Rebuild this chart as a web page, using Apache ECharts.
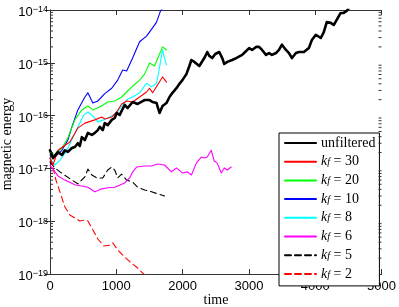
<!DOCTYPE html>
<html><head><meta charset="utf-8">
<script src="https://cdn.jsdelivr.net/npm/echarts@6/dist/echarts.min.js"></script>
<style>html,body{margin:0;padding:0;background:#fff}#c{width:399px;height:307px}</style>
</head><body><div id="c"></div>
<script>
const xTicks = [0, 1000, 2000, 3000, 4000, 5000];
const yExponents = [-19, -18, -17, -16, -15, -14];
const minorMantissas = [2, 3, 4, 5, 6, 7, 8, 9];
const legendNames = ['unfiltered', 'kf30', 'kf20', 'kf10', 'kf8', 'kf6', 'kf5', 'kf2'];
const legendValues = { kf30: '30', kf20: '20', kf10: '10', kf8: '8', kf6: '6', kf5: '5', kf2: '2' };

const unfiltered = [[0,2.2e-17],[45,1.57e-17],[75,1.44e-17],[120,2.05e-17],[180,1.8e-17],[225,2.2e-17],[270,2.05e-17],[330,2.43e-17],[375,2.54e-17],[420,3.0e-17],[450,2.65e-17],[480,3.9e-17],[526,3.45e-17],[571,4.7e-17],[631,4.3e-17],[676,4.7e-17],[721,5.3e-17],[751,6.1e-17],[796,5.3e-17],[826,7.2e-17],[871,6.6e-17],[931,8.3e-17],[976,9.0e-17],[1006,1.12e-16],[1051,1.03e-16],[1126,1.59e-16],[1171,1.39e-16],[1246,1.81e-16],[1321,1.66e-16],[1426,1.97e-16],[1502,1.97e-16],[1547,1.81e-16],[1607,1.73e-16],[1652,1.12e-16],[1697,1.52e-16],[1757,1.73e-16],[1802,2.25e-16],[1847,2.7e-16],[1907,3.3e-16],[1952,4.0e-16],[1997,4.7e-16],[2057,6.1e-16],[2102,8.7e-16],[2132,1.13e-15],[2177,1.04e-15],[2207,9.9e-16],[2252,8.7e-16],[2282,8.3e-16],[2327,1.23e-15],[2372,1.6e-15],[2402,1.35e-15],[2447,1.23e-15],[2492,1.47e-15],[2553,1.6e-15],[2598,1.23e-15],[2628,9.5e-16],[2673,1.04e-15],[2748,1.13e-15],[2808,1.23e-15],[2898,1.41e-15],[2943,1.6e-15],[3003,1.9e-15],[3048,1.75e-15],[3108,2.0e-15],[3153,2.0e-15],[3198,1.75e-15],[3258,1.41e-15],[3303,1.53e-15],[3348,1.41e-15],[3408,1.53e-15],[3453,1.75e-15],[3498,2.2e-15],[3559,1.75e-15],[3604,1.53e-15],[3649,1.23e-15],[3709,1.53e-15],[3754,1.6e-15],[3829,1.6e-15],[3904,1.9e-15],[3949,2.7e-15],[4009,3.4e-15],[4084,2.95e-15],[4129,3.8e-15],[4174,5.9e-15],[4234,5.7e-15],[4279,5.2e-15],[4324,6.5e-15],[4384,8.8e-15],[4429,8.8e-15],[4474,9.6e-15],[4500,1.05e-14]];
const kf30 = [[0,1.57e-17],[45,1.16e-17],[120,2.2e-17],[210,2.65e-17],[300,3.16e-17],[420,5.8e-17],[526,7.2e-17],[676,8.3e-17],[781,9.4e-17],[826,8.6e-17],[931,9.4e-17],[1006,1.17e-16],[1081,1.66e-16],[1156,1.89e-16],[1246,1.81e-16],[1351,2.25e-16],[1456,2.8e-16],[1502,3.3e-16],[1547,2.7e-16],[1622,3.8e-16],[1697,5.4e-16],[1757,4.3e-16]];
const kf20 = [[0,2.05e-17],[75,1.8e-17],[180,2.4e-17],[270,3.8e-17],[375,8.3e-17],[480,1.28e-16],[571,1.52e-16],[646,1.28e-16],[751,1.46e-16],[871,1.81e-16],[976,1.89e-16],[1081,2.25e-16],[1156,2.8e-16],[1246,3.6e-16],[1351,4.7e-16],[1426,6.1e-16],[1502,9.9e-16],[1577,8.7e-16],[1652,1.47e-15],[1697,2.0e-15],[1757,1.75e-15]];
const kf10 = [[0,1.8e-17],[75,1.64e-17],[180,2.2e-17],[270,3.45e-17],[330,6.1e-17],[420,1.28e-16],[526,2.25e-16],[571,2.7e-16],[646,1.73e-16],[721,1.89e-16],[826,2.6e-16],[931,3.3e-16],[1021,4.7e-16],[1096,7.3e-16],[1156,7.0e-16],[1246,1.23e-15],[1351,2.5e-15],[1456,3.2e-15],[1547,4.6e-15],[1607,5.9e-15],[1667,9.6e-15],[1690,1.05e-14]];
const kf8 = [[0,1.57e-17],[75,1.16e-17],[150,1.44e-17],[240,2.05e-17],[330,3.45e-17],[420,6.1e-17],[511,1.03e-16],[571,1.17e-16],[646,9.8e-17],[721,7.6e-17],[811,8.3e-17],[901,9.4e-17],[1006,1.12e-16],[1096,1.59e-16],[1171,2.06e-16],[1246,2.25e-16],[1351,2.7e-16],[1456,4.1e-16],[1532,3.5e-16],[1607,4.1e-16],[1652,8.3e-16],[1697,1.75e-15],[1727,1.23e-15],[1757,9.1e-16]];
const kf6 = [[0,1.16e-17],[30,1.02e-17],[120,7.2e-18],[225,6.0e-18],[375,4.9e-18],[571,4.4e-18],[676,3.6e-18],[781,4.1e-18],[871,4.3e-18],[976,4.4e-18],[1126,5.3e-18],[1201,6.6e-18],[1246,8.6e-18],[1306,1.06e-17],[1426,1.11e-17],[1532,1.11e-17],[1622,1.21e-17],[1727,1.16e-17],[1832,8.6e-18],[1907,1.02e-17],[1997,8.2e-18],[2072,8.6e-18],[2132,7.5e-18],[2207,1.26e-17],[2282,1.64e-17],[2327,1.57e-17],[2372,1.64e-17],[2432,2.2e-17],[2477,1.38e-17],[2522,1.26e-17],[2583,8.2e-18],[2628,1.02e-17],[2673,9.3e-18],[2733,1.06e-17]];
const kf5 = [[0,1.32e-17],[75,1.02e-17],[150,8.6e-18],[240,7.2e-18],[330,6.0e-18],[420,5.1e-18],[526,6.9e-18],[571,9.7e-18],[631,7.5e-18],[706,6.6e-18],[796,6.6e-18],[871,9.3e-18],[931,1.06e-17],[976,9.3e-18],[1021,6.6e-18],[1081,7.8e-18],[1156,6.0e-18],[1246,5.5e-18],[1321,4.4e-18],[1426,3.9e-18],[1532,3.6e-18],[1622,3.3e-18],[1727,3.0e-18]];
const kf2 = [[0,1.57e-17],[45,1.02e-17],[90,6.0e-18],[150,3.6e-18],[225,1.86e-18],[300,1.31e-18],[375,1.15e-18],[450,1.01e-18],[526,1.05e-18],[571,1.01e-18],[631,7.4e-19],[721,4.6e-19],[811,3.4e-19],[901,3.5e-19],[946,3.9e-19],[1021,2.85e-19],[1126,2.1e-19],[1231,1.6e-19],[1321,1.3e-19],[1450,9.0e-20]];

const seriesDefs = [
  { name: 'kf2', data: kf2, color: '#ff0000', width: 1.1, dash: [6, 4] },
  { name: 'kf5', data: kf5, color: '#000000', width: 1.1, dash: [6, 4] },
  { name: 'kf6', data: kf6, color: '#ff00ff', width: 1.1 },
  { name: 'kf8', data: kf8, color: '#00ffff', width: 1.1 },
  { name: 'kf10', data: kf10, color: '#0000ff', width: 1.1 },
  { name: 'kf20', data: kf20, color: '#00ff00', width: 1.1 },
  { name: 'kf30', data: kf30, color: '#ff0000', width: 1.1 },
  { name: 'unfiltered', data: unfiltered, color: '#000000', width: 2.6 }
];

const minorTickValues = [];
yExponents.slice(0, -1).forEach(e => minorMantissas.forEach(m => minorTickValues.push([0, m * Math.pow(10, e)])));

const serif = '"Liberation Serif", "DejaVu Serif", serif';
const sans = '"Liberation Sans", Arial, sans-serif';
const axisCol = '#333';

const chart = echarts.init(document.getElementById('c'), null, { renderer: 'canvas' });
const series = seriesDefs.map(s => ({
  type: 'line', name: s.name, data: s.data, symbol: 'none', showSymbol: false,
  clip: true, animation: false,
  lineStyle: { color: s.color, width: s.width, type: s.dash || 'solid', join: 'round', cap: 'round' },
  itemStyle: { color: s.color }
}));
series.push({
  type: 'custom', silent: true, animation: false, data: minorTickValues, encode: { x: 0, y: 1 }, z: 5,
  renderItem: (params, api) => {
    const v = api.value(1);
    const p0 = api.coord([xTicks[0], v]);
    const p1 = api.coord([xTicks[xTicks.length - 1], v]);
    return { type: 'group', children: [
      { type: 'line', shape: { x1: p0[0], y1: p0[1], x2: p0[0] + 3, y2: p0[1] }, style: { stroke: axisCol, lineWidth: 1 } },
      { type: 'line', shape: { x1: p1[0] - 3, y1: p1[1], x2: p1[0], y2: p1[1] }, style: { stroke: axisCol, lineWidth: 1 } }
    ] };
  }
});

const yAxisBase = {
  type: 'log', logBase: 10, min: Math.pow(10, yExponents[0]), max: Math.pow(10, yExponents[yExponents.length - 1]),
  splitLine: { show: false },
  axisLine: { show: true, lineStyle: { color: axisCol, width: 1 } },
  axisTick: { show: true, inside: true, length: 5, lineStyle: { color: axisCol } },
  minorTick: { show: false }
};
const xAxisBase = {
  type: 'value', min: xTicks[0], max: xTicks[xTicks.length - 1], interval: xTicks[1] - xTicks[0],
  splitLine: { show: false },
  axisLine: { show: true, onZero: false, lineStyle: { color: axisCol, width: 1 } },
  axisTick: { show: true, inside: true, length: 5, lineStyle: { color: axisCol } }
};

chart.setOption({
  animation: false,
  backgroundColor: '#fff',
  grid: { left: 50, right: 16, top: 10, bottom: 33 },
  xAxis: [
    Object.assign({}, xAxisBase, { position: 'bottom',
      axisLabel: { show: true, color: '#000', fontFamily: sans, fontSize: 13, margin: 6, formatter: v => String(v) } }),
    Object.assign({}, xAxisBase, { position: 'top', axisLabel: { show: false } })
  ],
  yAxis: [
    Object.assign({}, yAxisBase, { position: 'left',
      axisLabel: {
        show: true, margin: 2, color: '#000', padding: [5, 0, 0, 0],
        formatter: v => {
          const e = Math.round(Math.log10(v));
          return '{b|10}{s|\u2212' + Math.abs(e) + '}';
        },
        rich: {
          b: { fontFamily: sans, fontSize: 13, color: '#000', lineHeight: 14 },
          s: { fontFamily: sans, fontSize: 9, color: '#000', lineHeight: 2, verticalAlign: 'top' }
        }
      } }),
    Object.assign({}, yAxisBase, { position: 'right', axisLabel: { show: false } })
  ],
  legend: {
    orient: 'vertical', left: 279, top: 133, itemWidth: 31, itemHeight: 12, itemGap: 4.7,
    padding: [3, 4, 5, 5], backgroundColor: '#fff', borderColor: '#000', borderWidth: 1, borderRadius: 0,
    itemStyle: { opacity: 0, borderWidth: 0 },
    data: legendNames,
    formatter: name => name === 'unfiltered' ? '{n|unfiltered}' : '{i|k}{f|f}{n| = ' + legendValues[name] + '}',
    textStyle: {
      color: '#000', fontFamily: serif, fontSize: 14, lineHeight: 12,
      rich: {
        n: { fontFamily: serif, fontSize: 14, color: '#000', lineHeight: 12 },
        i: { fontFamily: serif, fontSize: 14, fontStyle: 'italic', color: '#000', lineHeight: 12 },
        f: { fontFamily: serif, fontSize: 10, fontStyle: 'italic', color: '#000', lineHeight: 5, verticalAlign: 'bottom' }
      }
    }
  },
  graphic: [
    { type: 'text', x: 216, y: 300, style: { text: 'time', fontFamily: serif, fontSize: 14, fill: '#000', align: 'center', verticalAlign: 'middle' } },
    { type: 'text', x: 7, y: 144, rotation: Math.PI / 2, style: { text: 'magnetic energy', fontFamily: serif, fontSize: 14, fill: '#000', align: 'center', verticalAlign: 'middle' } }
  ],
  series: series
});
</script></body></html>
